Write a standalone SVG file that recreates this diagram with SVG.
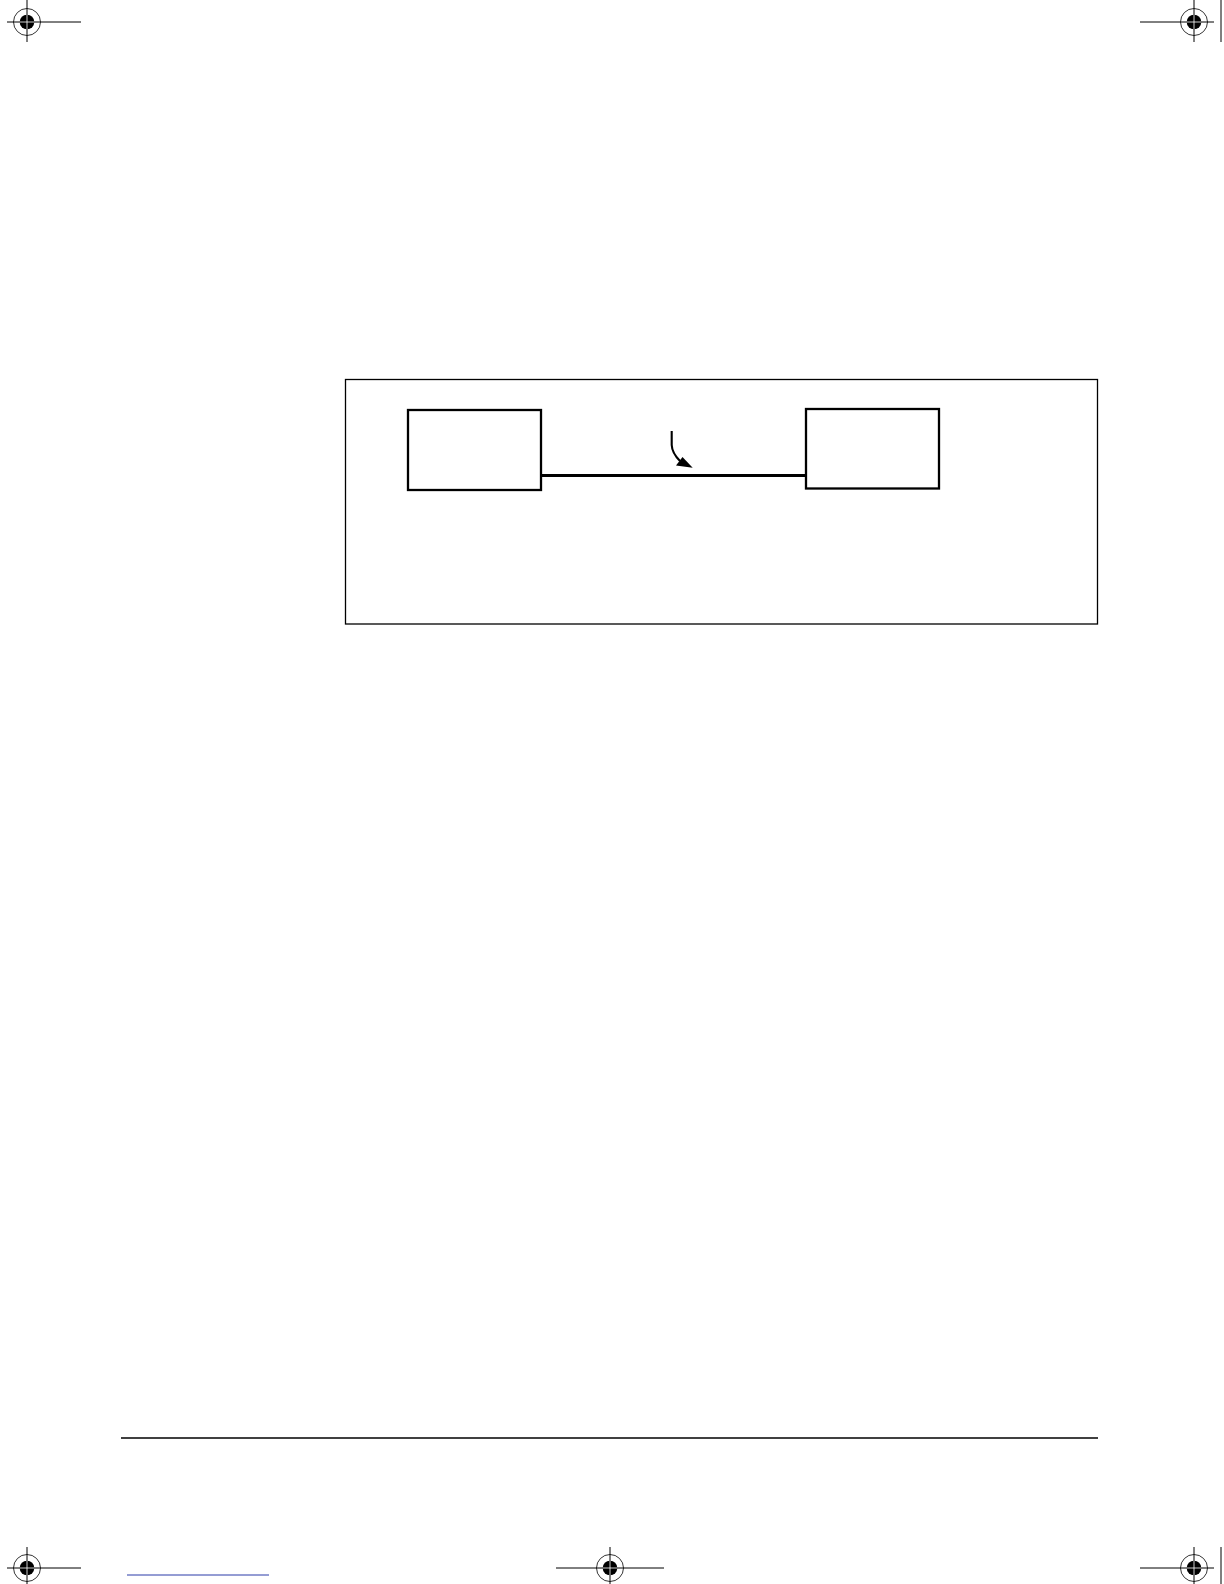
<svg xmlns="http://www.w3.org/2000/svg" xmlns:xlink="http://www.w3.org/1999/xlink" width="1224" height="1584" viewBox="0 0 1224 1584">
<style>
.frame{fill:none;stroke:#000;stroke-width:1.3}
.node{fill:#fff;stroke:#000;stroke-width:2.3}
.wire{fill:none;stroke:#000;stroke-width:3.2}
.crop{fill:none;stroke:#000;stroke-width:1}
.ring{fill:none;stroke:#000;stroke-width:0.8}
</style>
<defs>
<g id="target">
<circle class="ring" cx="0" cy="0" r="13.5"/>
<circle cx="0" cy="0" r="7.3" fill="#000"/>
<line x1="-7.3" y1="0" x2="7.3" y2="0" stroke="#fff" stroke-width="0.8"/>
<line x1="0" y1="-7.3" x2="0" y2="7.3" stroke="#fff" stroke-width="0.8"/>
</g>
</defs>
<rect width="1224" height="1584" fill="#fff"/>
<g id="crop-marks">
<line class="crop" x1="7" y1="22" x2="81" y2="22"/>
<line class="crop" x1="27" y1="0" x2="27" y2="42"/>
<use xlink:href="#target" x="27" y="22"/>
<line class="crop" x1="1140" y1="22" x2="1214" y2="22"/>
<line class="crop" x1="1194" y1="0" x2="1194" y2="42"/>
<use xlink:href="#target" x="1194" y="22"/>
<line class="crop" x1="1221" y1="0" x2="1221" y2="42"/>
<line class="crop" x1="7" y1="1568" x2="81" y2="1568"/>
<line class="crop" x1="27" y1="1547" x2="27" y2="1584"/>
<use xlink:href="#target" x="27" y="1568"/>
<line class="crop" x1="556" y1="1568" x2="664" y2="1568"/>
<line class="crop" x1="610" y1="1547" x2="610" y2="1584"/>
<use xlink:href="#target" x="610" y="1568"/>
<line class="crop" x1="1140" y1="1568" x2="1214" y2="1568"/>
<line class="crop" x1="1194" y1="1547" x2="1194" y2="1584"/>
<use xlink:href="#target" x="1194" y="1568"/>
<line class="crop" x1="1221" y1="1547" x2="1221" y2="1584"/>
<line x1="127" y1="1575" x2="269" y2="1575" stroke="#2a3aa8" stroke-width="1"/>
</g>
<rect id="figure-frame" class="frame" x="345.5" y="379.5" width="752" height="244.5"/>
<line id="footer-rule" x1="121" y1="1438" x2="1098" y2="1438" stroke="#000" stroke-width="1.5"/>
<g id="connectors">
<line class="wire" x1="541" y1="475.5" x2="806" y2="475.5"/>
<path d="M671.7,431 L671.7,445 C672,452 675,456 680,461" fill="none" stroke="#000" stroke-width="2.1"/>
<polygon points="692.7,467.7 676,465.5 682.5,457" fill="#000"/>
</g>
<g id="node-left">
<rect class="node" x="408" y="410" width="133" height="80"/>
</g>
<g id="node-right">
<rect class="node" x="806" y="409" width="133" height="79.5"/>
</g>
</svg>
